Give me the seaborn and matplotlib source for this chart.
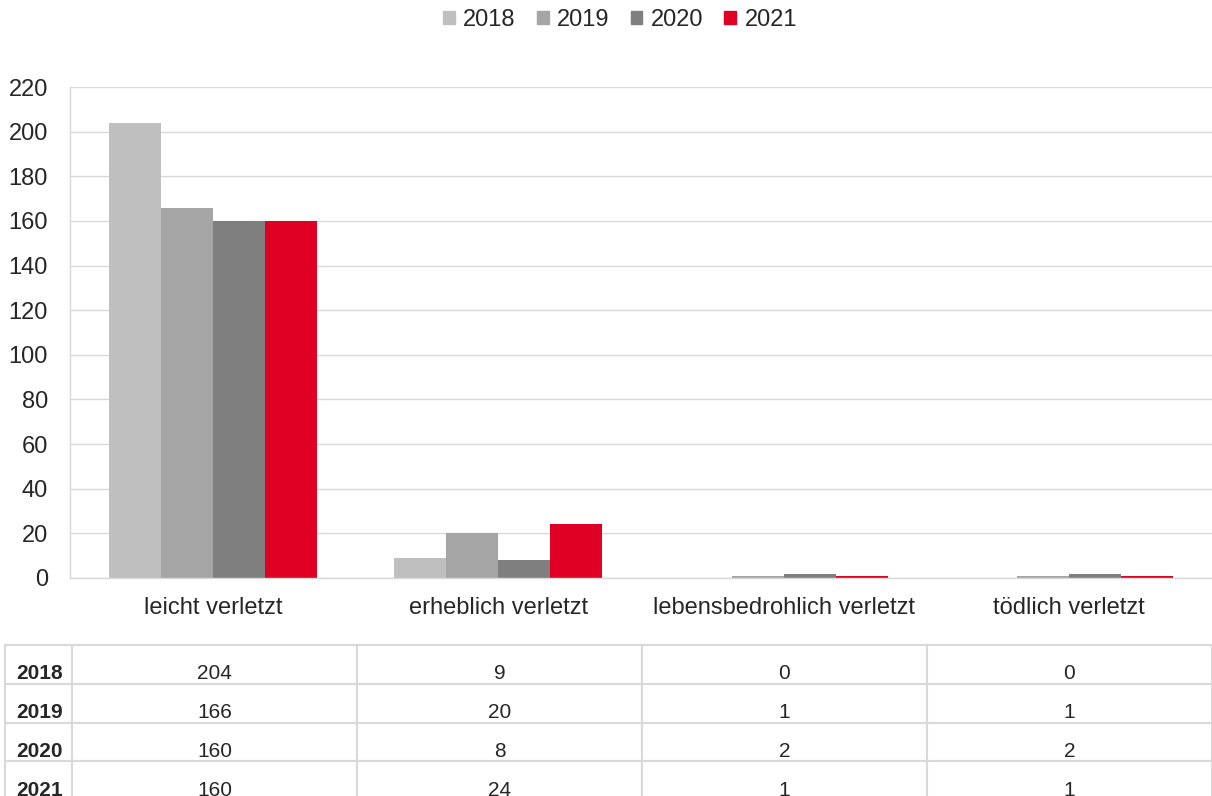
import numpy as np
import matplotlib.pyplot as plt
import matplotlib.patches as mpatches
import seaborn as sb
import pandas as pd

# DATA
#-----------------------
categories = ["leicht verletzt", "erheblich verletzt", "lebensbedrohlich verletzt", "tödlich verletzt"]
years = ["2018", "2019", "2020", "2021"]
values_2018 = [204, 9, 0, 0]
values_2019 = [166, 20, 1, 1]
values_2020 = [160, 8, 2, 2]
values_2021 = [160, 24, 1, 1]
colors = ["#bfbfbf", "#a5a5a5", "#7f7f7f", "#e00024"]
grid_color = "#d9d9d9"

series = [values_2018, values_2019, values_2020, values_2021]
df = pd.DataFrame({
    "category": [c for _ in years for c in categories],
    "year": [y for y in years for _ in categories],
    "value": [v for s in series for v in s],
})

sb.set_style("white")
plt.rcParams["font.family"] = ["Liberation Sans", "DejaVu Sans"]

# PLOT
#-----------------------
fig = plt.figure(figsize=(12.12, 7.96), dpi=100)
ax = fig.add_axes([70 / 1212, 1 - 578 / 796, 1142 / 1212, 491 / 796])

sb.barplot(data=df, x="category", y="value", hue="year", palette=colors,
           width=0.73, saturation=1, order=categories, hue_order=years,
           linewidth=0, ax=ax, legend=False)

ax.set_xlim(-0.5, 3.5)
ax.set_ylim(0, 220)
ax.set_yticks(np.arange(0, 221, 20))
ax.set_xlabel("")
ax.set_ylabel("")
ax.grid(axis="y", color=grid_color, linewidth=1)
ax.set_axisbelow(True)
for side in ["top", "right"]:
    ax.spines[side].set_visible(False)
for side in ["left", "bottom"]:
    ax.spines[side].set_color(grid_color)
    ax.spines[side].set_linewidth(1)
ax.tick_params(axis="y", length=8, color=grid_color, labelsize=17, pad=8)
ax.tick_params(axis="x", length=0, labelsize=17, pad=14)
ax.set_xticks([0.5, 1.5, 2.5], minor=True)
ax.tick_params(axis="x", which="minor", length=8, color=grid_color, width=1)

# LEGEND
#-----------------------
handles = [mpatches.Patch(color=c, label=y) for c, y in zip(colors, years)]
fig.legend(handles=handles, loc="center", bbox_to_anchor=(620 / 1212, 1 - 20 / 796),
           ncol=4, frameon=False, fontsize=17, handlelength=0.5, handleheight=0.5,
           handletextpad=0.35, columnspacing=0.9)

# DATA TABLE
#-----------------------
cell_text = [[y] + [str(v) for v in s] for y, s in zip(years, series)]
table = ax.table(cellText=cell_text,
                 colWidths=[67, 285, 285, 285, 285],
                 bbox=[-65 / 1142, (578 - 800) / 491, 1207 / 1142, 155 / 491],
                 cellLoc="center")
table.auto_set_font_size(False)
table.set_fontsize(15)
for (r, c), cell in table.get_celld().items():
    cell.set_edgecolor(grid_color)
    cell.set_linewidth(1.5)
    cell.get_text().set_fontsize(15)
    cell.get_text().set_va("top")
    if c == 0:
        cell.PAD = 0.17
        cell._loc = "left"
        cell.get_text().set_ha("left")
        cell.get_text().set_fontweight("bold")

plt.savefig("out.png", dpi=100)
